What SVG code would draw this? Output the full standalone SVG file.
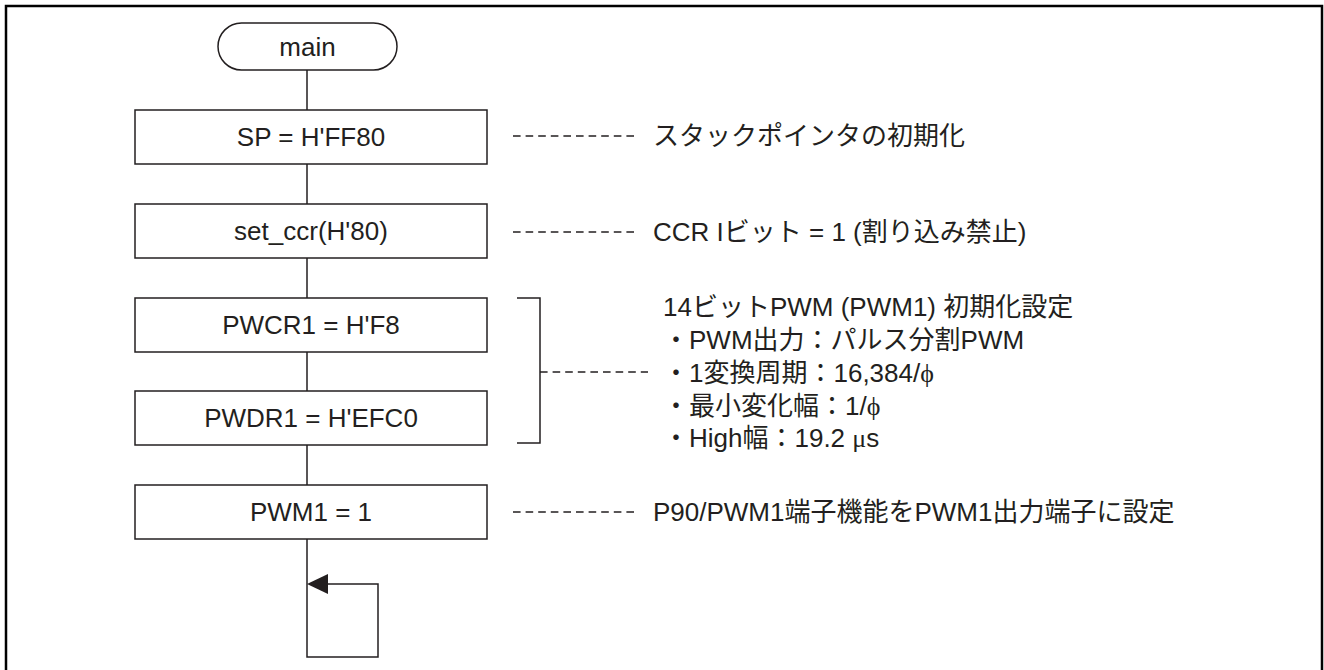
<svg xmlns="http://www.w3.org/2000/svg" width="1324" height="670" viewBox="0 0 1324 670">
<style>
.frame{fill:none;stroke:#000;stroke-width:2.5}
.box{fill:#fff;stroke:#231f20;stroke-width:1.5}
.ln{fill:none;stroke:#231f20;stroke-width:1.5}
.dash{fill:none;stroke:#231f20;stroke-width:1.5;stroke-dasharray:7.6 5}
.t{font-family:"Liberation Sans","Noto Sans CJK JP",sans-serif;font-size:26px;fill:#231f20}
.c{text-anchor:middle}
.g{font-family:"Liberation Serif","DejaVu Serif",serif}
</style>
<rect class="frame" x="6" y="6" width="1316" height="670"/>
<g id="connectors">
<path class="ln" d="M307,70 V110 M307,164 V204 M307,258 V298 M307,352 V391 M307,445 V485"/>
<path class="ln" d="M307,539 V657 H378 V584 H328"/>
<path d="M307,584 L328,574 L328,594 Z" fill="#231f20"/>
<path class="ln" d="M517,298 H540 V443 H517"/>
<path class="dash" d="M513,136 H637"/>
<path class="dash" d="M513,232 H637"/>
<path class="dash" d="M540,372 H648"/>
<path class="dash" d="M513,512 H637"/>
</g>
<g id="n-main">
<rect class="box" x="218" y="23" width="179" height="47" rx="23.5"/>
<text class="t c" x="307.5" y="56">main</text>
</g>
<g id="n-sp">
<rect class="box" x="135" y="110" width="352" height="54"/>
<text class="t c" x="311" y="146">SP = H'FF80</text>
</g>
<g id="n-ccr">
<rect class="box" x="135" y="204" width="352" height="54"/>
<text class="t c" x="311" y="240">set_ccr(H'80)</text>
</g>
<g id="n-pwcr">
<rect class="box" x="135" y="298" width="352" height="54"/>
<text class="t c" x="311" y="334">PWCR1 = H'F8</text>
</g>
<g id="n-pwdr">
<rect class="box" x="135" y="391" width="352" height="54"/>
<text class="t c" x="311" y="427">PWDR1 = H'EFC0</text>
</g>
<g id="n-pwm">
<rect class="box" x="135" y="485" width="352" height="54"/>
<text class="t c" x="311" y="521">PWM1 = 1</text>
</g>
<g id="notes">
<text class="t" x="653" y="145">スタックポインタの初期化</text>
<text class="t" x="653" y="241">CCR Iビット = 1 (割り込み禁止)</text>
<text class="t" x="663" y="316">14ビットPWM (PWM1) 初期化設定</text>
<text class="t" x="663" y="349">・PWM出力：パルス分割PWM</text>
<text class="t" x="663" y="382">・1変換周期：16,384/<tspan class="g">ϕ</tspan></text>
<text class="t" x="663" y="414.5">・最小変化幅：1/<tspan class="g">ϕ</tspan></text>
<text class="t" x="663" y="447">・High幅：19.2 <tspan class="g">μ</tspan>s</text>
<text class="t" x="653" y="521">P90/PWM1端子機能をPWM1出力端子に設定</text>
</g>
</svg>
